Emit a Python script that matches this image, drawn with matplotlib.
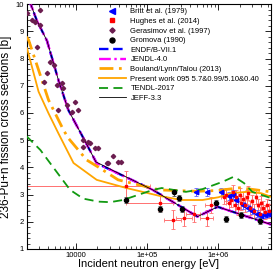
import matplotlib
matplotlib.use("Agg")
import matplotlib.pyplot as plt
from matplotlib.ticker import FixedLocator, MultipleLocator, NullFormatter
import numpy as np

plt.rcParams['font.family'] = ['Liberation Sans', 'DejaVu Sans']

# evaluated data
endf_e = [2000, 2300, 2800, 3900, 5640, 7800, 12700, 19500, 1.2e5, 5.1e5, 9.8e5, 5.5e6]
endf_xs = [10.6, 10.0, 9.4, 8.65, 7.21, 6.1, 5.07, 4.15, 3.17, 2.19, 2.55, 1.9]
jeff_e = [2000, 2300, 2800, 3900, 5640, 7800, 12700, 19000, 3.5e4, 1.2e5, 5.1e5, 9.8e5, 5.5e6]
jeff_xs = [10.6, 10.0, 9.4, 8.65, 7.21, 6.1, 5.07, 4.2, 3.85, 3.17, 2.19, 2.55, 1.9]
bouland_e = [2000, 2150, 4090, 6650, 7800, 14100, 21700, 39000, 1.5e5, 5e5, 1e6, 2e6, 5.5e6]
bouland_xs = [8.8, 8.68, 6.48, 5.37, 5.07, 4.27, 3.97, 3.54, 3.17, 3.12, 3.15, 3.25, 3.1]
present_e = [2040, 2970, 4090, 5640, 9200, 19500, 51000, 1.5e5, 3e5, 6e5, 1e6, 1.5e6, 2.5e6, 4e6, 5.5e6]
present_xs = [8.38, 6.78, 5.99, 5.25, 4.16, 3.54, 3.24, 2.95, 2.8, 2.8, 2.9, 3.05, 3.1, 3.05, 2.92]
tendl_e = [2000, 3140, 5100, 8250, 12600, 20600, 30000, 45700, 1.2e5, 1.6e5, 3.5e5, 6e5, 1.15e6, 1.66e6, 2.3e6, 3e6, 5.5e6]
tendl_xs = [5.15, 4.64, 3.9, 3.17, 2.85, 2.74, 2.72, 2.8, 3.17, 3.24, 3.1, 3.2, 3.47, 3.66, 3.42, 3.1, 2.87]

# experimental data
britt_e = [4.9e5, 7e5, 1.1e6, 1.4e6, 1.6e6, 1.8e6, 2.2e6, 2.6e6, 3.0e6, 3.5e6, 4.0e6, 4.5e6, 5.0e6]
britt_xs = [3.1, 3.1, 3.1, 2.95, 3.0, 2.8, 2.6, 2.5, 2.4, 2.3, 2.2, 2.25, 2.3]
britt_dy = [0.15, 0.15, 0.15, 0.15, 0.15, 0.15, 0.12, 0.12, 0.12, 0.12, 0.12, 0.12, 0.12]

hughes_e = [5.0e4, 1.5e5, 2.3e5, 3.3e5, 4.5e5, 7.0e5, 8.0e5, 1.2e6, 1.3e6, 1.4e6, 1.5e6, 1.6e6,
            1.7e6, 1.8e6, 1.9e6, 2.0e6, 2.1e6, 2.2e6, 2.4e6, 2.5e6, 2.6e6, 2.8e6, 3.0e6, 3.2e6,
            3.4e6, 3.6e6, 3.8e6, 4.0e6, 4.3e6, 4.6e6, 4.9e6, 5.2e6]
hughes_xs = [3.33, 2.7, 2.07, 2.14, 2.3, 2.14, 2.62, 2.9, 3.0, 2.7, 2.8, 3.1, 2.6, 2.9, 2.5, 3.0,
             2.7, 2.85, 2.6, 2.9, 3.05, 2.5, 2.75, 2.4, 2.9, 2.6, 2.3, 2.7, 2.5, 2.35, 2.6, 2.4]
hughes_dy = [0.55, 0.3, 0.35, 0.3, 0.3, 0.3, 0.3, 0.25, 0.25, 0.25, 0.25, 0.25, 0.25, 0.25, 0.25,
             0.25, 0.25, 0.25, 0.25, 0.25, 0.25, 0.25, 0.25, 0.25, 0.25, 0.25, 0.25, 0.25, 0.25,
             0.25, 0.25, 0.25]
hughes_lo = [2000, 5e4, 1.7e5, 2.5e5, 3.5e5, 5.5e5, 6.5e5, 1.1e6, 1.2e6, 1.3e6, 1.4e6, 1.5e6,
             1.6e6, 1.7e6, 1.8e6, 1.9e6, 2.0e6, 2.1e6, 2.3e6, 2.4e6, 2.5e6, 2.7e6, 2.9e6, 3.1e6,
             3.3e6, 3.5e6, 3.7e6, 3.9e6, 4.1e6, 4.4e6, 4.7e6, 5.0e6]
hughes_hi = [1.1e5, 2.3e5, 3.0e5, 4.2e5, 5.5e5, 8.5e5, 9.5e5, 1.3e6, 1.4e6, 1.5e6, 1.6e6, 1.7e6,
             1.8e6, 1.9e6, 2.0e6, 2.1e6, 2.2e6, 2.3e6, 2.5e6, 2.6e6, 2.7e6, 2.9e6, 3.1e6, 3.3e6,
             3.5e6, 3.7e6, 3.9e6, 4.1e6, 4.5e6, 4.8e6, 5.1e6, 5.4e6]

gerasimov_e = [2040, 2400, 2670, 3140, 3140, 2820, 3490, 3890, 4320, 4820, 5370, 6320, 6650,
               5640, 7400, 8700, 9680, 10800, 12600, 12600, 14900, 15700, 18500, 20500, 26900,
               28300, 33300, 39000, 43500]
gerasimov_xs = [9.67, 9.42, 9.36, 9.8, 9.24, 8.44, 7.15, 7.46, 7.89, 7.76, 7.03, 7.09, 6.9,
                6.11, 6.29, 6.05, 6.42, 6.11, 5.0, 4.76, 4.94, 4.9, 4.7, 4.7, 4.15, 4.15, 4.42,
                4.21, 4.21]

gromova_e = [5.0e4, 1.5e5, 2.4e5, 2.8e5, 3.1e5, 9.3e5, 1.27e6, 2.1e6, 3.9e6]
gromova_xs = [2.8, 2.47, 3.08, 2.87, 2.47, 2.69, 2.1, 2.25, 2.02]
gromova_dy = [0.12, 0.12, 0.12, 0.12, 0.12, 0.12, 0.12, 0.12, 0.12]

fig = plt.figure(figsize=(2.74, 2.73), dpi=100)
ax = fig.add_axes([0.0985, 0.088, 0.8905, 0.897])

# error bars first
h_e = np.array(hughes_e)
ax.errorbar(hughes_e, hughes_xs, yerr=hughes_dy,
            xerr=[h_e - np.array(hughes_lo), np.array(hughes_hi) - h_e],
            fmt='none', ecolor='#ff7070', elinewidth=0.7, capsize=1.5, capthick=0.6, zorder=2)
ax.errorbar(britt_e, britt_xs, yerr=britt_dy, fmt='none', ecolor='#6060ff',
            elinewidth=0.7, capsize=1.5, capthick=0.6, zorder=2)
ax.errorbar(gromova_e, gromova_xs, yerr=gromova_dy, fmt='none', ecolor='#555555',
            elinewidth=0.7, capsize=1.5, capthick=0.6, zorder=2)

h_britt, = ax.plot(britt_e, britt_xs, '<', color='blue', ms=3.2, ls='none', zorder=4,
                   label='Britt et al. (1979)')
h_hughes, = ax.plot(hughes_e, hughes_xs, 's', color='red', ms=2.0, ls='none', zorder=4,
                    label='Hughes et al. (2014)')
h_ger, = ax.plot(gerasimov_e, gerasimov_xs, 'D', color='#6b1d4f', ms=2.2, ls='none', zorder=4,
                 label='Gerasimov et al. (1997)')
h_grom, = ax.plot(gromova_e, gromova_xs, 'o', color='black', ms=3.0, ls='none', zorder=4,
                  label='Gromova (1990)')

h_endf, = ax.plot(endf_e, endf_xs, color='blue', lw=1.7, ls=(0, (4, 2)), zorder=3,
                  label='ENDF/B-VII.1')
h_jendl, = ax.plot(endf_e, endf_xs, color='magenta', lw=1.7, ls=(0, (5, 1.5, 1, 1.5)), zorder=3,
                   label='JENDL-4.0')
h_bou, = ax.plot(bouland_e, bouland_xs, color='orange', lw=2.0, ls=(0, (5, 2, 1, 2)), zorder=3,
                 label='Bouland/Lynn/Talou (2013)')
h_pres, = ax.plot(present_e, present_xs, color='orange', lw=1.3, zorder=3,
                  label='Present work 095 5.7&0.99/5.10&0.40')
h_tendl, = ax.plot(tendl_e, tendl_xs, color='#119911', lw=1.3, ls=(0, (5, 3)), zorder=3,
                   label='TENDL-2017')
h_jeff, = ax.plot(jeff_e, jeff_xs, color='black', lw=0.6, zorder=3, label='JEFF-3.3')

ax.set_xscale('log')
ax.set_xlim(2040, 5.5e6)
ax.set_ylim(1, 10)

ax.xaxis.set_major_locator(FixedLocator([1e4, 1e5, 1e6]))
ax.set_xticklabels(['10000', '1e+05', '1e+06'])
ax.xaxis.set_minor_formatter(NullFormatter())
ax.yaxis.set_major_locator(MultipleLocator(1))
ax.yaxis.set_minor_locator(MultipleLocator(0.2))
ax.tick_params(which='both', direction='in', top=True, right=True, labelsize=5.5, pad=2)
ax.tick_params(which='major', length=4, width=0.6)
ax.tick_params(which='minor', length=2, width=0.5)
for s in ax.spines.values():
    s.set_linewidth(0.8)

ax.set_xlabel('Incident neutron energy [eV]', fontsize=8, labelpad=0)
ax.set_ylabel('236-Pu+n fission cross sections [b]', fontsize=8.5, labelpad=3)

handles = [h_britt, h_hughes, h_ger, h_grom, h_endf, h_jendl, h_bou, h_pres, h_tendl, h_jeff]
ax.legend(handles=handles, loc='upper left', bbox_to_anchor=(0.28, 1.0), frameon=False,
          fontsize=5.5, handlelength=3.5, handletextpad=0.6, labelspacing=0.3,
          borderaxespad=0.1, markerscale=1.2)

fig.savefig('out.png', dpi=100)
